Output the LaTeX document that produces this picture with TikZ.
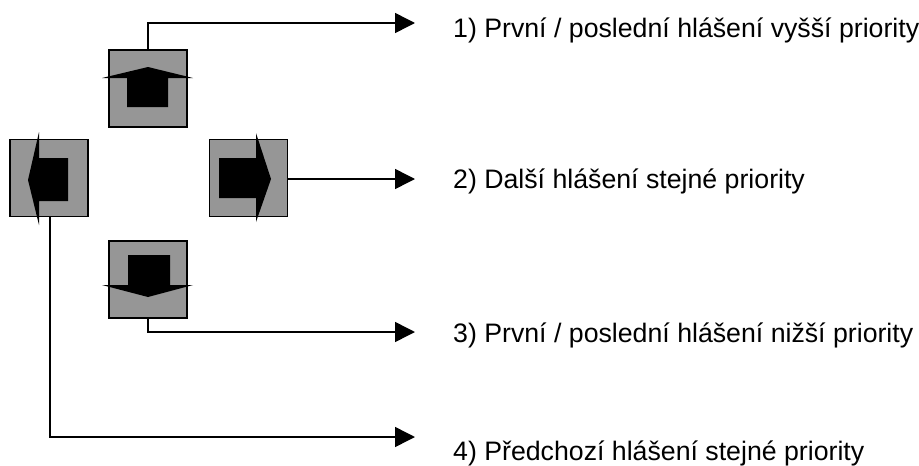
\documentclass[tikz,border=0pt]{standalone}
\usepackage{fontspec}
\setmainfont{Liberation Sans}
\usetikzlibrary{arrows.meta}
\definecolor{boxgray}{RGB}{150,150,150}
\tikzset{
  keybox/.style={draw=black, line width=1.5pt, fill=boxgray, rectangle, minimum width=78pt, minimum height=77pt, inner sep=0pt},
  glyph/.style={fill=black, draw=none},
  conn/.style={line width=1.5pt, -{Triangle[length=20pt,width=20pt]}},
  lbl/.style={anchor=base west, inner sep=0pt, font=\fontsize{26.7}{30}\selectfont}
}
\begin{document}
\begin{tikzpicture}[x=1pt,y=-1pt]
\useasboundingbox (0,0) rectangle (919,466);
% boxes
\node[keybox] (up) at (148,88.5) {};
\node[keybox] (left) at (49,178) {};
\node[keybox] (right) at (248.5,178) {};
\node[keybox] (down) at (148,279.5) {};
% arrow glyphs
\begin{scope}[shift={(up.center)}]
  \fill[glyph] (-21,18.5) -- (-21,-10.5) -- (-46,-10.5) -- (0,-21.5) -- (45,-10.5) -- (20,-10.5) -- (20,18.5) -- cycle;
\end{scope}
\begin{scope}[shift={(left.center)}]
  \fill[glyph] (19,-20) -- (-10,-20) -- (-10,-46) -- (-21,2) -- (-10,47) -- (-10,23) -- (19,23) -- cycle;
\end{scope}
\begin{scope}[shift={(right.center)}]
  \fill[glyph] (-29.5,-20) -- (7.5,-20) -- (7.5,-45) -- (22.5,1) -- (7.5,44) -- (7.5,20) -- (-29.5,20) -- cycle;
\end{scope}
\begin{scope}[shift={(down.center)}]
  \fill[glyph] (-20,-24.5) -- (22,-24.5) -- (22,5.5) -- (45,5.5) -- (0,17.5) -- (-46,5.5) -- (-20,5.5) -- cycle;
\end{scope}
% arrow end points
\coordinate (t1) at (415,23);
\coordinate (t2) at (415,179);
\coordinate (t3) at (415,332);
\coordinate (t4) at (415,437);
% connectors
\draw[conn] (up.north) |- (t1);
\draw[conn] (right.east |- t2) -- (t2);
\draw[conn] (down.south) |- (t3);
\draw[conn] ([xshift=1pt]left.south) |- (t4);
% labels
\node[lbl] (l1) at (453,37) {1) První / poslední hlášení vyšší priority};
\node[lbl] (l2) at (453,188) {2) Další hlášení stejné priority};
\node[lbl] (l3) at (453,342) {3) První / poslední hlášení nižší priority};
\node[lbl] (l4) at (453,460) {4) Předchozí hlášení stejné priority};
\end{tikzpicture}
\end{document}
